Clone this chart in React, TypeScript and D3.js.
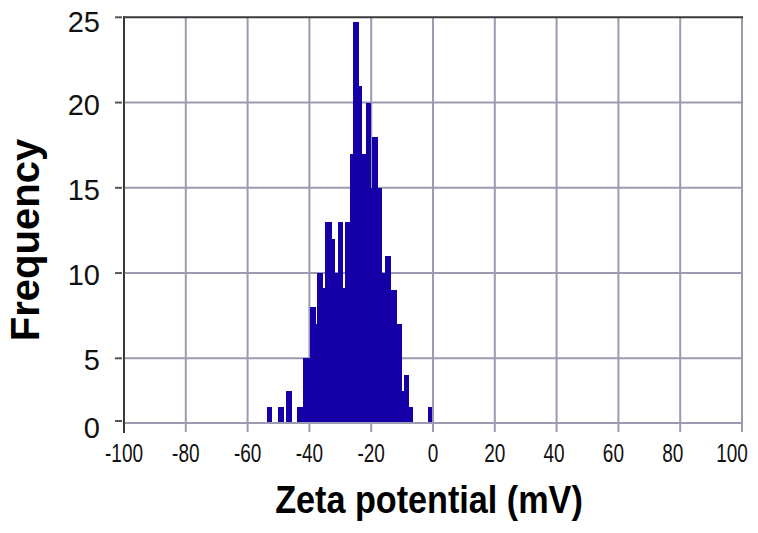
import * as d3 from "d3";
import { useEffect, useRef } from "react";

// zeta potential bins (mV) and their frequency
const binLo = [-53.8, -50.3, -47.6, -43.9, -42.2, -39.8, -38.0, -37.4, -35.6, -34.9, -32.8, -31.8, -30.8, -29.1, -28.5, -27.0, -26.0, -23.9, -22.9, -21.8, -20.1, -19.6, -17.7, -16.6, -15.4, -13.7, -11.7, -9.9, -9.3, -7.7, -1.5];
const binHi = [-52.2, -48.2, -45.5, -42.2, -39.8, -38.0, -37.4, -35.6, -34.9, -32.8, -31.8, -30.8, -29.1, -28.5, -27.0, -26.0, -23.9, -22.9, -21.8, -20.1, -19.6, -17.7, -16.6, -15.4, -13.7, -11.7, -9.9, -9.3, -7.7, -6.4, -0.2];
const frequency = [1.2, 1.2, 2.5, 1.2, 5, 8, 7, 10, 9.1, 13, 12, 10, 13, 9.1, 13, 17, 24.75, 21, 17, 20, 15, 18, 15, 10, 11, 9, 7, 2.5, 3.7, 1.2, 1.2];

const xTicks = [-100, -80, -60, -40, -20, 0, 20, 40, 60, 80, 100];
const yTicks = [0, 5, 10, 15, 20, 25];

function App() {
	const ref = useRef<SVGSVGElement>(null);
	const width = 758;
	const height = 533;
	const left = 124;
	const right = 742;
	const top = 17.3;
	const bottom = 423;
	const gridColor = "#9c9ab0";
	const axisColor = "#3a3a3a";
	const barColor = "#1500a8";
	const font = "'Liberation Sans', Arial, sans-serif";

	useEffect(() => {
		const svg = d3.select(ref.current);
		svg.selectAll("*").remove();

		const x = d3.scaleLinear().domain([-100, 100]).range([left, right]);
		// the bottom 0-5 band is drawn shorter than the rest in the original
		const y = d3
			.scaleLinear()
			.domain([0, 5, 25])
			.range([bottom, bottom - 64.7, top]);

		// grid
		svg.append("g")
			.selectAll("line")
			.data(xTicks.slice(1))
			.enter()
			.append("line")
			.attr("x1", (d) => x(d))
			.attr("x2", (d) => x(d))
			.attr("y1", top)
			.attr("y2", bottom + 9)
			.attr("stroke", gridColor)
			.attr("stroke-width", 2);
		svg.append("g")
			.selectAll("line")
			.data(yTicks.slice(0, -1))
			.enter()
			.append("line")
			.attr("x1", left)
			.attr("x2", right)
			.attr("y1", (d) => y(d))
			.attr("y2", (d) => y(d))
			.attr("stroke", gridColor)
			.attr("stroke-width", 2);

		// bars
		svg.append("g")
			.attr("shape-rendering", "crispEdges")
			.selectAll("rect")
			.data(frequency)
			.enter()
			.append("rect")
			.attr("x", (_, i) => x(binLo[i]))
			.attr("width", (_, i) => x(binHi[i]) - x(binLo[i]))
			.attr("y", (d) => y(d))
			.attr("height", (d) => y(0) - y(d) - 1)
			.attr("fill", barColor);

		// frame: dark left + top
		svg.append("line")
			.attr("x1", left)
			.attr("x2", left)
			.attr("y1", top - 1)
			.attr("y2", bottom + 10)
			.attr("stroke", axisColor)
			.attr("stroke-width", 2);
		svg.append("line")
			.attr("x1", left - 1)
			.attr("x2", right + 1)
			.attr("y1", top)
			.attr("y2", top)
			.attr("stroke", axisColor)
			.attr("stroke-width", 2);

		// y ticks
		const yg = svg.append("g");
		yg.selectAll("line")
			.data(yTicks)
			.enter()
			.append("line")
			.attr("x1", left - 9)
			.attr("x2", left - 2)
			.attr("y1", (d) => y(d) - (d === 0 ? 2 : 0))
			.attr("y2", (d) => y(d) - (d === 0 ? 2 : 0))
			.attr("stroke", "#555")
			.attr("stroke-width", 2);
		yg.selectAll("text")
			.data(yTicks)
			.enter()
			.append("text")
			.attr("x", 100)
			.attr("y", (d) => y(d) + (d === 25 ? 5 : d === 0 ? 5 : 2))
			.attr("dy", "0.35em")
			.attr("text-anchor", "end")
			.style("font-family", font)
			.style("font-size", "29px")
			.style("fill", "#111")
			.text((d) => d);

		// x tick labels (narrow)
		svg.append("g")
			.selectAll("text")
			.data(xTicks)
			.enter()
			.append("text")
			.attr("transform", (d) => "translate(" + (x(d) - (d >= 40 ? (d - 20) / 8 : 0)) + ",462) scale(0.76,1)")
			.attr("text-anchor", "middle")
			.style("font-family", font)
			.style("font-size", "25px")
			.style("fill", "#111")
			.text((d) => d);

		// axis titles
		svg.append("text")
			.attr("transform", "translate(429,513) scale(0.9,1)")
			.attr("text-anchor", "middle")
			.style("font-family", font)
			.style("font-size", "38px")
			.style("font-weight", "bold")
			.style("fill", "#000")
			.text("Zeta potential (mV)");
		svg.append("text")
			.attr("transform", "translate(39,240) rotate(-90)")
			.attr("text-anchor", "middle")
			.style("font-family", font)
			.style("font-size", "40px")
			.style("font-weight", "bold")
			.style("fill", "#000")
			.text("Frequency");
	}, []);

	return (
		<svg
			ref={ref}
			width={width}
			height={height}
			style={{ position: "absolute", left: 0, top: 0, background: "#fff" }}
		/>
	);
}

export default App;
